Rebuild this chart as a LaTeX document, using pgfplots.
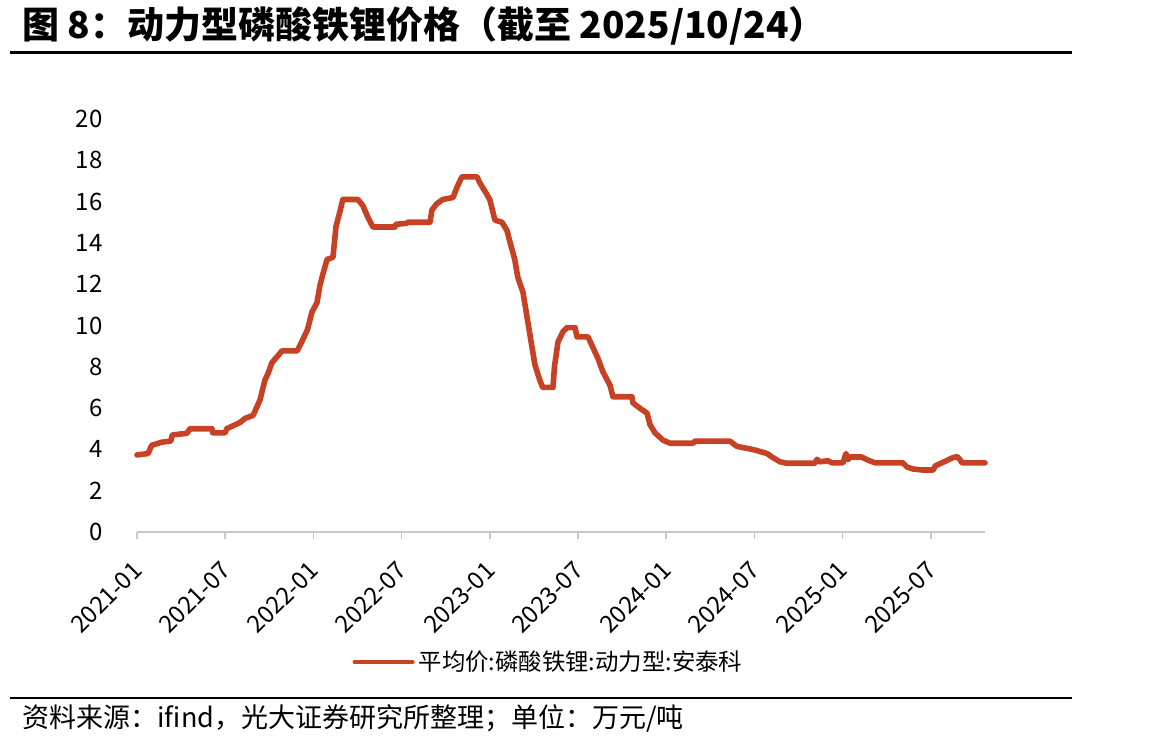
\documentclass[border=0pt]{standalone}
\usepackage{pgfplots}
\pgfplotsset{compat=1.18}
\usepackage{fontspec}
\setmainfont{Noto Sans CJK SC}
\definecolor{lineRed}{RGB}{199,66,36}
\definecolor{axGray}{RGB}{200,200,200}
\begin{document}
\begin{tikzpicture}[x=0.5pt,y=0.5pt]
\path[use as bounding box] (0,0) rectangle (1151,749);
\coordinate (O) at (137,217);
\node[anchor=west,inner sep=0pt,font=\fontsize{18.5pt}{20pt}\selectfont\bfseries] at (22,723) {图 8：动力型磷酸铁锂价格（截至 2025/10/24）};
\draw[line width=1.5pt] (10,696) -- (1072,696);
\draw[line width=1pt] (10,51) -- (1072,51);
\node[anchor=west,inner sep=0pt,font=\fontsize{13.5pt}{15pt}\selectfont] at (22,31) {资料来源：ifind，光大证券研究所整理；单位：万元/吨};
\begin{axis}[
  at={(O)}, anchor=south west,
  scale only axis, width=424pt, height=206.5pt,
  xmin=0, xmax=57.69, ymin=0, ymax=20,
  axis lines*=left,
  y axis line style={draw=none},
  x axis line style={axGray, line width=0.8pt},
  ytick={0,2,...,20},
  xtick={0,6,...,54},
  xticklabels={2021-01,2021-07,2022-01,2022-07,2023-01,2023-07,2024-01,2024-07,2025-01,2025-07},
  ytick style={draw=none},
  xtick style={axGray, line width=0.8pt},
  tick align=outside,
  major tick length=3.5pt,
  /pgf/number format/assume math mode=true,
  ticklabel style={font=\fontsize{12pt}{14pt}\selectfont},
  yticklabel style={anchor=east, inner sep=0pt, xshift=-13.5pt},
  xticklabel style={xshift=0.5pt, yshift=-13.5pt, rotate=45, anchor=east, inner sep=0pt},
  legend style={draw=none, at={(0.4864,-0.315)}, anchor=center, font=\fontsize{11.7pt}{13pt}\selectfont, inner sep=0pt},
  legend image code/.code={\draw[#1, line width=2pt] (0pt,0pt) -- (29pt,0pt);},
  clip=false,
]
\addplot[lineRed, line width=2.8pt, line join=round, line cap=round] coordinates {
(0,3.73) (0.75,3.8) (1.0,4.2) (1.7,4.35) (2.3,4.4) (2.4,4.7) (3.4,4.78) (3.6,5.0)
(5.1,5.0) (5.15,4.8) (6.0,4.8) (6.1,5.0) (7.0,5.3) (7.35,5.5) (7.9,5.65) (8.37,6.4)
(8.7,7.35) (8.9,7.65) (9.18,8.2) (9.6,8.55) (9.86,8.77) (10.9,8.77) (11.2,9.2) (11.6,9.8)
(11.9,10.65) (12.24,11.1) (12.45,11.95) (12.65,12.5) (12.93,13.2) (13.33,13.3) (13.54,14.8)
(13.8,15.5) (14.0,16.1) (15.03,16.1) (15.37,15.8) (15.7,15.25) (16.05,14.77) (17.55,14.77)
(17.6,14.9) (18.37,14.95) (18.4,15.0) (19.93,15.0) (20.07,15.6) (20.4,15.9) (20.8,16.1)
(21.5,16.2) (21.77,16.7) (22.1,17.2) (23.13,17.2) (23.33,16.9) (23.67,16.5) (24.0,16.1)
(24.35,15.1) (24.83,15.0) (25.17,14.6) (25.37,14.05) (25.7,13.2) (25.9,12.35) (26.26,11.6)
(26.87,8.96) (27.07,8.1) (27.4,7.36) (27.6,7.0) (28.3,7.0) (28.4,8.0) (28.64,9.2) (28.98,9.7)
(29.25,9.9) (29.8,9.9) (29.93,9.45) (30.68,9.45) (31.0,8.96) (31.36,8.4) (31.7,7.75)
(32.18,7.1) (32.38,6.55) (33.67,6.55) (33.74,6.25) (34.2,6.0) (34.7,5.75) (34.9,5.2)
(35.24,4.8) (35.78,4.45) (36.26,4.3) (37.82,4.3) (37.96,4.4) (40.34,4.4) (40.8,4.15)
(41.5,4.05) (42.04,3.97) (42.86,3.8) (43.27,3.6) (43.74,3.4) (44.2,3.33) (46.12,3.33)
(46.26,3.52) (46.46,3.4) (47.0,3.45) (47.28,3.35) (48.03,3.35) (48.23,3.8) (48.37,3.5)
(48.5,3.63) (49.3,3.63) (49.66,3.5) (50.2,3.35) (52.1,3.35) (52.38,3.15) (52.8,3.05)
(53.47,3.0) (54.16,3.0) (54.3,3.2) (54.76,3.35) (55.5,3.6) (55.8,3.65) (55.99,3.5)
(56.12,3.35) (57.69,3.35)
};
\addlegendentry{平均价:磷酸铁锂:动力型:安泰科}
\end{axis}
\end{tikzpicture}
\end{document}
